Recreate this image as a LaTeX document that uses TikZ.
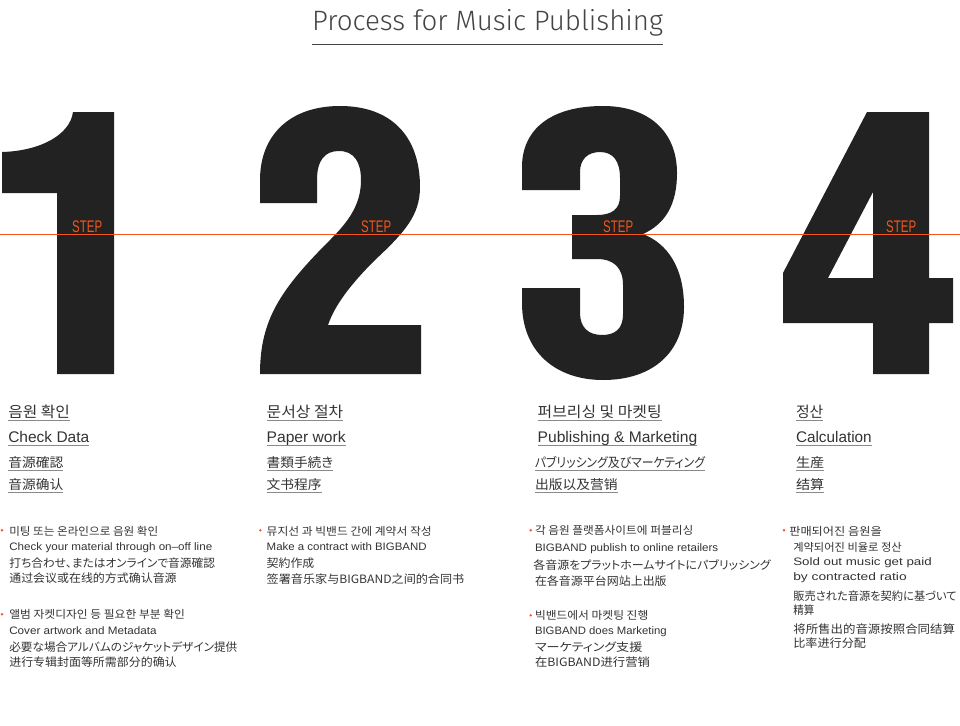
\documentclass[tikz,border=0pt]{standalone}
\usepackage{fontspec}
\usepackage{graphicx}
\setmainfont{Liberation Sans}
\newfontfamily\krfont[RawFeature=+palt]{Noto Sans CJK KR}
\newfontfamily\jpfont[RawFeature=+palt]{Noto Sans CJK JP}
\newfontfamily\cnfont{Noto Sans CJK SC}
\newfontfamily\titlefont{Fira Sans Light}
\newcommand{\fitw}[2]{\resizebox{#1pt}{\height}{#2}}
\newcommand{\fHK}{\krfont\fontsize{15}{15}\selectfont}
\newcommand{\fHE}{\fontsize{15.4}{15}\selectfont}
\newcommand{\fHJ}{\jpfont\fontsize{13}{13}\selectfont}
\newcommand{\fHC}{\cnfont\fontsize{13}{13}\selectfont}
\newcommand{\fBK}{\krfont\fontsize{11}{11}\selectfont}
\newcommand{\fBE}{\fontsize{10.8}{11}\selectfont}
\newcommand{\fBJ}{\jpfont\fontsize{11.5}{12}\selectfont}
\newcommand{\fBC}{\cnfont\fontsize{11.5}{12}\selectfont}
\definecolor{digit}{HTML}{222222}
\definecolor{accent}{HTML}{F5541A}
\definecolor{txtc}{HTML}{333333}
\definecolor{titlec}{HTML}{444444}
\definecolor{subc}{HTML}{555555}
\definecolor{ulc}{HTML}{8A8A8A}
% name, x, baseline, width, font, text
\newcommand{\mytext}[6]{\node[txt] (#1) at (#2,#3) {\fitw{#4}{#5#6}};}
\newcommand{\myul}[1]{\draw[uline] ([yshift=-3pt]#1.base west) -- ([yshift=-3pt]#1.base east);}
\begin{document}
\begin{tikzpicture}[x=1pt,y=-1pt,
  txt/.style={anchor=base west, inner sep=0pt, outer sep=0pt, text=txtc},
  uline/.style={draw=ulc, line width=0.8pt},
  bulletdot/.style={circle, fill=accent, inner sep=0pt, minimum size=2.7pt},
  steplabel/.style={anchor=base west, inner sep=0pt, text=accent},
  digitfill/.style={fill=digit}]
\fill[white] (0,0) rectangle (960,725);
\useasboundingbox (0,0) rectangle (960,725);

% title
\node[txt, text=titlec] (title) at (312,31) {\fitw{351}{\titlefont\fontsize{28}{28}\selectfont Process for Music Publishing}};
\draw[titlec, line width=1.2pt] ([yshift=-13.3pt]title.base west) -- ([yshift=-13.3pt]title.base east);

% digit 1
\fill[digitfill] (57,374) -- (57,193) -- (2,193) -- (2,152) .. controls (40,151) and (70,135) .. (73,112) -- (114,112) -- (114,374) -- cycle;
% digit 2
\fill[digitfill] (260,374) -- (421,374) -- (421,325) -- (328,325) .. controls (335,305) and (350,285) .. (375,260) .. controls (405,232) and (420,215) .. (420,187) .. controls (420,135) and (390,106) .. (340,106) .. controls (290,106) and (260,135) .. (260,180) -- (260,203) -- (317,203) -- (317,180) .. controls (317,160) and (325,151) .. (339,151) .. controls (354,151) and (361,162) .. (361,180) .. controls (361,205) and (348,222) .. (330,240) .. controls (280,290) and (260,320) .. (260,374) -- cycle;
% digit 3
\fill[digitfill] (603,106) .. controls (550,106) and (522,130) .. (522,167) -- (522,190) -- (580,190) -- (580,172) .. controls (580,159) and (588,152) .. (600,152) .. controls (613,152) and (620,161) .. (620,178) -- (620,196) .. controls (620,209) and (612,215) .. (597,215) -- (572,215) -- (572,259) -- (597,259) .. controls (614,259) and (623,268) .. (623,285) -- (623,314) .. controls (623,329) and (615,335) .. (602,335) .. controls (588,335) and (580,327) .. (580,313) -- (580,288) -- (522,288) -- (522,303) .. controls (522,352) and (556,380) .. (603,380) .. controls (653,380) and (684,352) .. (684,307) .. controls (684,268) and (668,244) .. (643,234) .. controls (665,224) and (677,205) .. (677,173) .. controls (677,131) and (648,106) .. (603,106) -- cycle;
% digit 4
\fill[digitfill, even odd rule] (867,112) -- (929,112) -- (929,278) -- (953,278) -- (953,323) -- (929,323) -- (929,374) -- (873,374) -- (873,323) -- (783,323) -- (783,273) -- cycle (828,278) -- (873,278) -- (873,192) -- cycle;

% orange line and STEP labels
\coordinate (lineL) at (0,234);
\coordinate (lineR) at (960,234);
\draw[accent, line width=1pt] (lineL) -- (lineR);
\node[steplabel] (s1) at (72,232) {\fitw{30}{\fontsize{16.8}{17}\selectfont STEP}};
\node[steplabel] (s2) at (361,232) {\fitw{30}{\fontsize{16.8}{17}\selectfont STEP}};
\node[steplabel] (s3) at (603,232) {\fitw{30}{\fontsize{16.8}{17}\selectfont STEP}};
\node[steplabel] (s4) at (886,232) {\fitw{30}{\fontsize{16.8}{17}\selectfont STEP}};

% headings column 1
\mytext{h1k}{8.3}{417}{61.7}{\fHK}{음원 확인}\myul{h1k}
\mytext{h1e}{8.3}{442}{81}{\fHE}{Check Data}\myul{h1e}
\mytext{h1j}{8.3}{467}{55}{\fHJ}{音源確認}\myul{h1j}
\mytext{h1c}{8.3}{489}{55}{\fHC}{音源确认}\myul{h1c}
% headings column 2
\mytext{h2k}{266.7}{417}{76.6}{\fHK}{문서상 절차}\myul{h2k}
\mytext{h2e}{266.7}{442}{79}{\fHE}{Paper work}\myul{h2e}
\mytext{h2j}{266.7}{467}{66.6}{\fHJ}{書類手続き}\myul{h2j}
\mytext{h2c}{266.7}{489}{55}{\fHC}{文书程序}\myul{h2c}
% headings column 3
\mytext{h3k}{537.7}{417}{124}{\fHK}{퍼브리싱 및 마켓팅}\myul{h3k}
\mytext{h3e}{537.7}{442}{159.6}{\fHE}{Publishing \& Marketing}\myul{h3e}
\mytext{h3j}{535}{467}{170}{\fHJ}{パブリッシング及びマーケティング}\myul{h3j}
\mytext{h3c}{535}{489}{82.7}{\fHC}{出版以及营销}\myul{h3c}
% headings column 4
\mytext{h4k}{796}{417}{27.3}{\fHK}{정산}\myul{h4k}
\mytext{h4e}{796}{442}{75.7}{\fHE}{Calculation}\myul{h4e}
\mytext{h4j}{796}{467}{28.3}{\fHJ}{生産}\myul{h4j}
\mytext{h4c}{796}{489}{28.3}{\fHC}{结算}\myul{h4c}

% bullets
\node[bulletdot] (b1a) at (2,530.3) {};
\node[bulletdot] (b1b) at (2,614.3) {};
\node[bulletdot] (b2a) at (260.3,530.3) {};
\node[bulletdot] (b3a) at (530.7,530.3) {};
\node[bulletdot] (b3b) at (530.7,615.3) {};
\node[bulletdot] (b4a) at (784,530.3) {};

% body column 1
\mytext{t1a}{9.3}{535}{149}{\fBK}{미팅 또는 온라인으로 음원 확인}
\mytext{t1b}{9.3}{550}{203}{\fBE}{Check your material through on–off line}
\mytext{t1c}{9.3}{567}{205.7}{\fBJ}{打ち合わせ、またはオンラインで音源確認}
\mytext{t1d}{9.3}{582}{167.4}{\fBC}{通过会议或在线的方式确认音源}
\mytext{t1e}{9.3}{618}{175.7}{\fBK}{앨범 자켓디자인 등 필요한 부분 확인}
\mytext{t1f}{9.3}{634}{147.4}{\fBE}{Cover artwork and Metadata}
\mytext{t1g}{9.3}{651}{228}{\fBJ}{必要な場合アルバムのジャケットデザイン提供}
\mytext{t1h}{9.3}{666}{167.4}{\fBC}{进行专辑封面等所需部分的确认}
% body column 2
\mytext{t2a}{266.7}{535}{165}{\fBK}{뮤지선 과 빅밴드 간에 계약서 작성}
\mytext{t2b}{266.7}{550}{160}{\fBE}{Make a contract with BIGBAND}
\mytext{t2c}{266.7}{567}{47.6}{\fBJ}{契約作成}
\mytext{t2d}{266.7}{583}{197.6}{\fBC}{签署音乐家与BIGBAND之间的合同书}
% body column 3
\mytext{t3a}{535}{534}{158.3}{\fBK}{각 음원 플랫폼사이트에 퍼블리싱}
\mytext{t3b}{535}{551}{183.3}{\fBE}{BIGBAND publish to online retailers}
\mytext{t3c}{533.3}{569}{237.4}{\fBJ}{各音源をプラットホームサイトにパブリッシング}
\mytext{t3d}{535}{585}{131.7}{\fBC}{在各音源平台网站上出版}
\mytext{t3e}{535}{619}{113.3}{\fBK}{빅밴드에서 마켓팅 진행}
\mytext{t3f}{535}{634}{131.7}{\fBE}{BIGBAND does Marketing}
\mytext{t3g}{535}{651}{107.3}{\fBJ}{マーケティング支援}
\mytext{t3h}{535}{666}{115}{\fBC}{在BIGBAND进行营销}
% body column 4
\mytext{t4a}{789.3}{535}{92.4}{\fBK}{판매되어진 음원을}
\mytext{t4b}{793.3}{551}{108.4}{\fBK}{계약되어진 비율로 정산}
\mytext{t4c}{793.3}{565}{138.4}{\fBE}{Sold out music get paid}
\mytext{t4d}{793.3}{580}{113.4}{\fBE}{by contracted ratio}
\mytext{t4e}{793.3}{600}{163.4}{\fBJ}{販売された音源を契約に基づいて}
\mytext{t4f}{793.3}{614}{21}{\fBJ}{精算}
\mytext{t4g}{793.3}{633}{161.7}{\fBC}{将所售出的音源按照合同结算}
\mytext{t4h}{793.3}{647}{72.7}{\fBC}{比率进行分配}
\end{tikzpicture}
\end{document}
